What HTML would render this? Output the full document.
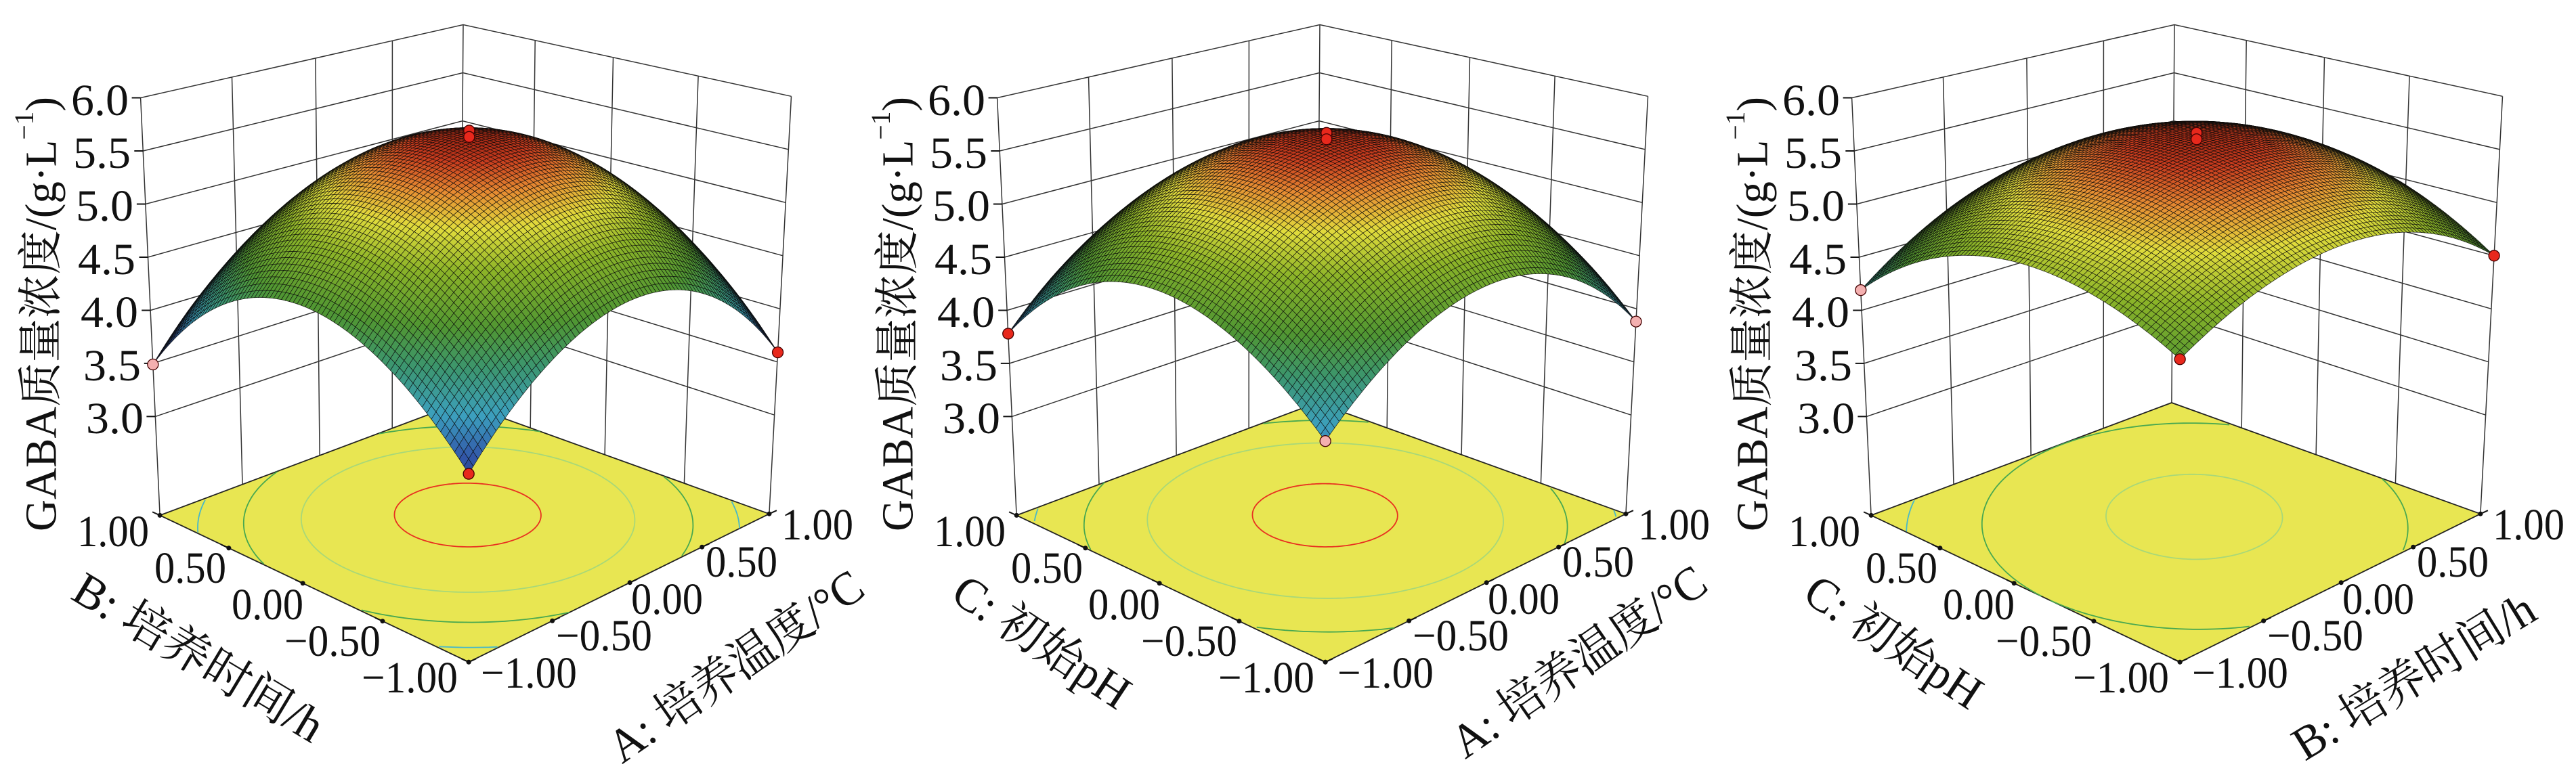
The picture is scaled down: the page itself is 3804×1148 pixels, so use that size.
<!DOCTYPE html>
<html><head><meta charset="utf-8">
<style>
html,body{margin:0;padding:0;background:#fff;overflow:hidden;}
svg{display:block;}
text{font-family:"Liberation Serif","Noto Serif CJK SC","Noto Sans CJK SC",serif;fill:#111;}
</style></head>
<body>
<svg id="s" xmlns="http://www.w3.org/2000/svg" width="3804" height="1148" viewBox="0 0 3804 1148">
<rect width="3804" height="1148" fill="#fff"/>
<g id="p0" transform="translate(0,0)">
 <g class="plot"></g>
 <g font-size="66">
  <text x="190" y="170" text-anchor="end" textLength="85" lengthAdjust="spacingAndGlyphs">6.0</text>
  <text x="193" y="248" text-anchor="end" textLength="85" lengthAdjust="spacingAndGlyphs">5.5</text>
  <text x="197" y="326" text-anchor="end" textLength="85" lengthAdjust="spacingAndGlyphs">5.0</text>
  <text x="200" y="405" text-anchor="end" textLength="85" lengthAdjust="spacingAndGlyphs">4.5</text>
  <text x="204" y="483" text-anchor="end" textLength="85" lengthAdjust="spacingAndGlyphs">4.0</text>
  <text x="208" y="562" text-anchor="end" textLength="85" lengthAdjust="spacingAndGlyphs">3.5</text>
  <text x="212" y="640" text-anchor="end" textLength="85" lengthAdjust="spacingAndGlyphs">3.0</text>
  <text x="220" y="807" text-anchor="end" textLength="106" lengthAdjust="spacingAndGlyphs">1.00</text>
  <text x="334" y="861" text-anchor="end" textLength="106" lengthAdjust="spacingAndGlyphs">0.50</text>
  <text x="448" y="915" text-anchor="end" textLength="106" lengthAdjust="spacingAndGlyphs">0.00</text>
  <text x="562" y="969" text-anchor="end" textLength="142" lengthAdjust="spacingAndGlyphs">−0.50</text>
  <text x="676" y="1023" text-anchor="end" textLength="142" lengthAdjust="spacingAndGlyphs">−1.00</text>
  <text x="710" y="1016" textLength="142" lengthAdjust="spacingAndGlyphs">−1.00</text>
  <text x="821" y="961" textLength="142" lengthAdjust="spacingAndGlyphs">−0.50</text>
  <text x="932" y="907" textLength="106" lengthAdjust="spacingAndGlyphs">0.00</text>
  <text x="1042" y="852" textLength="106" lengthAdjust="spacingAndGlyphs">0.50</text>
  <text x="1154" y="797" textLength="106" lengthAdjust="spacingAndGlyphs">1.00</text>
 </g>
 <text font-size="66" transform="translate(61,464) rotate(-90)" text-anchor="middle" dominant-baseline="central" textLength="642" lengthAdjust="spacingAndGlyphs">GABA质量浓度/(g·L<tspan font-size="40" dy="-26">−1</tspan><tspan dy="26">)</tspan></text>
 <text font-size="70" transform="translate(293,972) rotate(31)" text-anchor="middle" dominant-baseline="central" textLength="418" lengthAdjust="spacingAndGlyphs">B: 培养时间/h</text>
 <text font-size="70" transform="translate(1087,985) rotate(-34.8)" text-anchor="middle" dominant-baseline="central" textLength="441" lengthAdjust="spacingAndGlyphs">A: 培养温度/°C</text>
</g>
<g id="p1" transform="translate(1265,0)">
 <g class="plot"></g>
 <g font-size="66">
  <text x="190" y="170" text-anchor="end" textLength="85" lengthAdjust="spacingAndGlyphs">6.0</text>
  <text x="193" y="248" text-anchor="end" textLength="85" lengthAdjust="spacingAndGlyphs">5.5</text>
  <text x="197" y="326" text-anchor="end" textLength="85" lengthAdjust="spacingAndGlyphs">5.0</text>
  <text x="200" y="405" text-anchor="end" textLength="85" lengthAdjust="spacingAndGlyphs">4.5</text>
  <text x="204" y="483" text-anchor="end" textLength="85" lengthAdjust="spacingAndGlyphs">4.0</text>
  <text x="208" y="562" text-anchor="end" textLength="85" lengthAdjust="spacingAndGlyphs">3.5</text>
  <text x="212" y="640" text-anchor="end" textLength="85" lengthAdjust="spacingAndGlyphs">3.0</text>
  <text x="220" y="807" text-anchor="end" textLength="106" lengthAdjust="spacingAndGlyphs">1.00</text>
  <text x="334" y="861" text-anchor="end" textLength="106" lengthAdjust="spacingAndGlyphs">0.50</text>
  <text x="448" y="915" text-anchor="end" textLength="106" lengthAdjust="spacingAndGlyphs">0.00</text>
  <text x="562" y="969" text-anchor="end" textLength="142" lengthAdjust="spacingAndGlyphs">−0.50</text>
  <text x="676" y="1023" text-anchor="end" textLength="142" lengthAdjust="spacingAndGlyphs">−1.00</text>
  <text x="710" y="1016" textLength="142" lengthAdjust="spacingAndGlyphs">−1.00</text>
  <text x="821" y="961" textLength="142" lengthAdjust="spacingAndGlyphs">−0.50</text>
  <text x="932" y="907" textLength="106" lengthAdjust="spacingAndGlyphs">0.00</text>
  <text x="1042" y="852" textLength="106" lengthAdjust="spacingAndGlyphs">0.50</text>
  <text x="1154" y="797" textLength="106" lengthAdjust="spacingAndGlyphs">1.00</text>
 </g>
 <text font-size="66" transform="translate(61,464) rotate(-90)" text-anchor="middle" dominant-baseline="central" textLength="642" lengthAdjust="spacingAndGlyphs">GABA质量浓度/(g·L<tspan font-size="40" dy="-26">−1</tspan><tspan dy="26">)</tspan></text>
 <text font-size="70" transform="translate(273,949) rotate(33.5)" text-anchor="middle" dominant-baseline="central" textLength="298" lengthAdjust="spacingAndGlyphs">C: 初始pH</text>
 <text font-size="70" transform="translate(1067,978) rotate(-34.8)" text-anchor="middle" dominant-baseline="central" textLength="441" lengthAdjust="spacingAndGlyphs">A: 培养温度/°C</text>
</g>
<g id="p2" transform="translate(2527,0)">
 <g class="plot"></g>
 <g font-size="66">
  <text x="190" y="170" text-anchor="end" textLength="85" lengthAdjust="spacingAndGlyphs">6.0</text>
  <text x="193" y="248" text-anchor="end" textLength="85" lengthAdjust="spacingAndGlyphs">5.5</text>
  <text x="197" y="326" text-anchor="end" textLength="85" lengthAdjust="spacingAndGlyphs">5.0</text>
  <text x="200" y="405" text-anchor="end" textLength="85" lengthAdjust="spacingAndGlyphs">4.5</text>
  <text x="204" y="483" text-anchor="end" textLength="85" lengthAdjust="spacingAndGlyphs">4.0</text>
  <text x="208" y="562" text-anchor="end" textLength="85" lengthAdjust="spacingAndGlyphs">3.5</text>
  <text x="212" y="640" text-anchor="end" textLength="85" lengthAdjust="spacingAndGlyphs">3.0</text>
  <text x="220" y="807" text-anchor="end" textLength="106" lengthAdjust="spacingAndGlyphs">1.00</text>
  <text x="334" y="861" text-anchor="end" textLength="106" lengthAdjust="spacingAndGlyphs">0.50</text>
  <text x="448" y="915" text-anchor="end" textLength="106" lengthAdjust="spacingAndGlyphs">0.00</text>
  <text x="562" y="969" text-anchor="end" textLength="142" lengthAdjust="spacingAndGlyphs">−0.50</text>
  <text x="676" y="1023" text-anchor="end" textLength="142" lengthAdjust="spacingAndGlyphs">−1.00</text>
  <text x="710" y="1016" textLength="142" lengthAdjust="spacingAndGlyphs">−1.00</text>
  <text x="821" y="961" textLength="142" lengthAdjust="spacingAndGlyphs">−0.50</text>
  <text x="932" y="907" textLength="106" lengthAdjust="spacingAndGlyphs">0.00</text>
  <text x="1042" y="852" textLength="106" lengthAdjust="spacingAndGlyphs">0.50</text>
  <text x="1154" y="797" textLength="106" lengthAdjust="spacingAndGlyphs">1.00</text>
 </g>
 <text font-size="66" transform="translate(61,464) rotate(-90)" text-anchor="middle" dominant-baseline="central" textLength="642" lengthAdjust="spacingAndGlyphs">GABA质量浓度/(g·L<tspan font-size="40" dy="-26">−1</tspan><tspan dy="26">)</tspan></text>
 <text font-size="70" transform="translate(269,949) rotate(33.5)" text-anchor="middle" dominant-baseline="central" textLength="298" lengthAdjust="spacingAndGlyphs">C: 初始pH</text>
 <text font-size="70" transform="translate(1038,1000) rotate(-31.5)" text-anchor="middle" dominant-baseline="central" textLength="406" lengthAdjust="spacingAndGlyphs">B: 培养时间/h</text>
</g>
</svg>
<script>
(function(){
var NS="http://www.w3.org/2000/svg";
var SX=0.8143, SY=0.73;
var FL={F:[850,1340],R:[1395,1040],K:[835,815],L:[290,1043]};
var TP={F:[850,410],R:[1435,195],K:[840,50],L:[255,198]};
var ZF=2.07, ZT=6.0;
function hom(q){
 var x0=q.F[0],y0=q.F[1],x1=q.R[0],y1=q.R[1],x2=q.K[0],y2=q.K[1],x3=q.L[0],y3=q.L[1];
 var sx=x0-x1+x2-x3, sy=y0-y1+y2-y3;
 var dx1=x1-x2,dx2=x3-x2,dy1=y1-y2,dy2=y3-y2;
 var den=dx1*dy2-dx2*dy1;
 var g=(sx*dy2-dx2*sy)/den, h=(dx1*sy-sx*dy1)/den;
 var a=x1-x0+g*x1,b=x3-x0+h*x3,c=x0,d=y1-y0+g*y1,e=y3-y0+h*y3,f=y0;
 return function(s,t){var w=g*s+h*t+1;return [(a*s+b*t+c)/w,(d*s+e*t+f)/w];};
}
var Hf=hom(FL),Ht=hom(TP);
function P(u,v,z){var s=(u+1)/2,t=(v+1)/2;var a=Hf(s,t),b=Ht(s,t);var w=(z-ZF)/(ZT-ZF);return [(a[0]+(b[0]-a[0])*w)*SX,(a[1]+(b[1]-a[1])*w)*SY];}
function f2(p){return p[0].toFixed(1)+","+p[1].toFixed(1);}
var stops=[[3.5,[35,35,120]],[3.8,[50,90,170]],[4.05,[60,160,190]],[4.35,[60,150,110]],[4.6,[80,150,50]],[4.95,[140,180,40]],[5.2,[225,220,60]],[5.4,[230,140,50]],[5.55,[200,60,30]],[5.7,[130,20,10]]];
function cmap(z){
 if(z<=stops[0][0])return stops[0][1];
 for(var i=1;i<stops.length;i++){if(z<=stops[i][0]){var a=stops[i-1],b=stops[i],t=(z-a[0])/(b[0]-a[0]);return [0,1,2].map(function(k){return Math.round(a[1][k]+(b[1][k]-a[1][k])*t);});}}
 return stops[stops.length-1][1];
}
var cfg=[
 {c:[5.62,0.035,-0.015,-1.0,-1.0,0.08],dots:[[-1,1,"#f4b0b0"],[1,-1,"#e8281c"],[-1,-1,"#e8281c"]],lv:[[5.5,"#e83020"],[5.0,"#a8d878"],[4.5,"#48a850"],[4.0,"#48b8c8"]]},
 {c:[5.6,0.03,-0.02,-0.85,-0.85,0.07],dots:[[-1,1,"#e8281c"],[1,-1,"#f4b0b0"],[-1,-1,"#f4b0b0"]],lv:[[5.5,"#e83020"],[5.0,"#a8d878"],[4.5,"#48a850"],[4.0,"#48b8c8"]]},
 {c:[5.6,0.075,-0.08,-0.55,-0.55,0.155],dots:[[-1,1,"#f4b0b0"],[1,-1,"#e8281c"],[-1,-1,"#e8281c"]],lv:[[5.5,"#a8d878"],[5.0,"#48a850"],[4.5,"#48b8c8"]]}
];
function el(n,at,par){var e=document.createElementNS(NS,n);for(var k in at)e.setAttribute(k,at[k]);par.appendChild(e);return e;}
cfg.forEach(function(C,pi){
 var g=document.querySelector("#p"+pi+" .plot");
 var c=C.c;
 function Z(u,v){return c[0]+c[1]*u+c[2]*v+c[3]*u*u+c[4]*v*v+c[5]*u*v;}
 var wl="";
 var zs=[3,3.5,4,4.5,5,5.5,6];
 zs.forEach(function(z){wl+="M"+f2(P(-1,1,z))+"L"+f2(P(1,1,z))+"L"+f2(P(1,-1,z));});
 [-0.5,0,0.5,1].forEach(function(u){wl+="M"+f2(P(u,1,ZF))+"L"+f2(P(u,1,6));});
 [-0.5,0,0.5].forEach(function(v){wl+="M"+f2(P(1,v,ZF))+"L"+f2(P(1,v,6));});
 wl+="M"+f2(P(-1,1,ZF))+"L"+f2(P(-1,1,6));
 wl+="M"+f2(P(1,-1,ZF))+"L"+f2(P(1,-1,6));
 el("path",{d:wl,fill:"none",stroke:"#333",'stroke-width':1.5},g);
 var tk="";
 zs.forEach(function(z){var p=P(-1,1,z);tk+="M"+f2(p)+"l-13,0";});
 el("path",{d:tk,fill:"none",stroke:"#111",'stroke-width':2},g);
 el("path",{d:"M"+f2(P(-1,-1,ZF))+"L"+f2(P(1,-1,ZF))+"L"+f2(P(1,1,ZF))+"L"+f2(P(-1,1,ZF))+"Z",fill:"#e8e652",stroke:"#222",'stroke-width':1.8},g);
 var det=4*c[3]*c[4]-c[5]*c[5];
 var cu=(-c[1]*2*c[4]+c[5]*c[2])/det, cv=(-2*c[3]*c[2]+c[5]*c[1])/det;
 var zmax=Z(cu,cv);
 C.lv.forEach(function(L){
  var d="",pen=false;
  for(var k=0;k<=240;k++){
   var a=k/240*2*Math.PI,dx=Math.cos(a),dy=Math.sin(a);
   var kk=c[3]*dx*dx+c[4]*dy*dy+c[5]*dx*dy;
   var r=Math.sqrt((L[0]-zmax)/kk);
   var uu=cu+r*dx,vv=cv+r*dy;
   if(Math.abs(uu)>1||Math.abs(vv)>1){pen=false;continue;}
   d+=(pen?"L":"M")+f2(P(uu,vv,ZF));pen=true;
  }
  if(d)el("path",{d:d,fill:"none",stroke:L[1],'stroke-width':1.8},g);
 });
 var N=80,cells=[];
 for(var i=0;i<N;i++)for(var j=0;j<N;j++){
  var u0=-1+2*i/N,u1=-1+2*(i+1)/N,v0=-1+2*j/N,v1=-1+2*(j+1)/N;
  cells.push([u0,u1,v0,v1,u0+u1+v0+v1]);
 }
 cells.sort(function(a,b){return b[4]-a[4];});
 var frag=document.createDocumentFragment();
 cells.forEach(function(q){
  var z00=Z(q[0],q[2]),z10=Z(q[1],q[2]),z11=Z(q[1],q[3]),z01=Z(q[0],q[3]);
  var col=cmap((z00+z10+z11+z01)/4);
  var e=document.createElementNS(NS,"path");
  e.setAttribute("d","M"+f2(P(q[0],q[2],z00))+"L"+f2(P(q[1],q[2],z10))+"L"+f2(P(q[1],q[3],z11))+"L"+f2(P(q[0],q[3],z01))+"Z");
  e.setAttribute("fill","rgb("+col.join(",")+")");
  e.setAttribute("stroke","#0a0a0a");
  e.setAttribute("stroke-width","0.7");
  e.setAttribute("stroke-opacity","0.85");
  frag.appendChild(e);
 });
 g.appendChild(frag);
 var et="";
 [-1,-0.5,0,0.5,1].forEach(function(t){
  var p=P(-1,t,ZF);et+="M"+f2(p)+"l-11,-5";
  var q=P(t,-1,ZF);et+="M"+f2(q)+"l11,-5";
 });
 el("path",{d:et,fill:"none",stroke:"#111",'stroke-width':2},g);
 [-1,-0.5,0,0.5,1].forEach(function(t){
  var p=P(-1,t,ZF);el("circle",{cx:p[0],cy:p[1],r:3.5,fill:"#111"},g);
  var q=P(t,-1,ZF);el("circle",{cx:q[0],cy:q[1],r:3.5,fill:"#111"},g);
 });
 C.dots.forEach(function(D){var p=P(D[0],D[1],Z(D[0],D[1]));el("circle",{cx:p[0],cy:p[1],r:8,fill:D[2],stroke:"#400",'stroke-width':1.3},g);});
 var pk=P(cu,cv,zmax+0.06);el("circle",{cx:pk[0],cy:pk[1],r:8,fill:"#e8281c",stroke:"#400",'stroke-width':1.3},g);
 pk=P(cu,cv,zmax);el("circle",{cx:pk[0],cy:pk[1],r:8,fill:"#e8281c",stroke:"#400",'stroke-width':1.3},g);
});
})();
</script>
</body></html>
